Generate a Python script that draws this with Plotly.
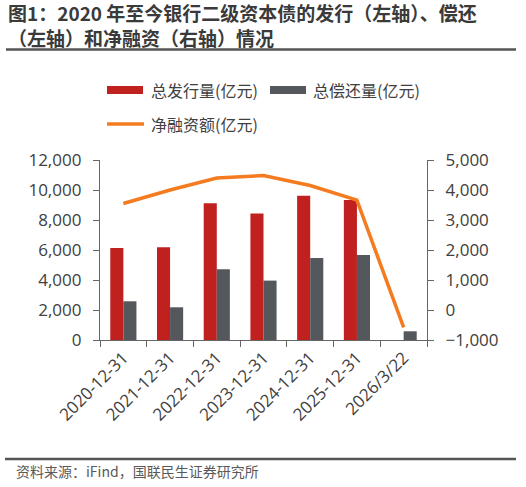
import plotly.graph_objects as go

categories = ["2020-12-31", "2021-12-31", "2022-12-31", "2023-12-31",
              "2024-12-31", "2025-12-31", "2026/3/22"]
issuance = [6130, 6180, 9110, 8440, 9620, 9330, 0]
redemption = [2580, 2180, 4710, 3960, 5470, 5670, 580]
net_financing = [3550, 4000, 4400, 4480, 4150, 3660, -580]

left_ticks = [0, 2000, 4000, 6000, 8000, 10000, 12000]
right_ticks = [-1000, 0, 1000, 2000, 3000, 4000, 5000]

RED = "#C0201E"
GRAY = "#54575C"
ORANGE = "#F47B20"
AX = "#666666"
TXT = "#404040"
FONT = "Open Sans, Noto Sans CJK SC, sans-serif"
CJK = "Noto Sans CJK SC, sans-serif"

W, H = 526, 487
L, R, T, B = 100, 427, 160, 340


def px(x):
    return (x - L) / (R - L)


def py(y):
    return (B - y) / (B - T)


fig = go.Figure()
fig.add_trace(go.Bar(x=categories, y=issuance, name="总发行量(亿元)",
                     marker=dict(color=RED, line=dict(width=0)),
                     showlegend=False))
fig.add_trace(go.Bar(x=categories, y=redemption, name="总偿还量(亿元)",
                     marker=dict(color=GRAY, line=dict(width=0)),
                     showlegend=False))
fig.add_trace(go.Scatter(x=categories, y=net_financing, name="净融资额(亿元)",
                         yaxis="y2", mode="lines",
                         line=dict(color=ORANGE, width=3.5),
                         showlegend=False))

shapes = []
annotations = []

# Title (two lines)
annotations.append(dict(
    text="<b>图1：2020 年至今银行二级资本债的发行（左轴）、偿还<br>（左轴）和净融资（右轴）情况</b>",
    xref="paper", yref="paper", x=px(6), y=py(25),
    xanchor="left", yanchor="middle", align="left", showarrow=False,
    font=dict(family=CJK, size=19, color="#3a3a3a")))
shapes.append(dict(type="line", xref="paper", yref="paper", x0=px(6), x1=px(516),
                   y0=py(49.5), y1=py(49.5), line=dict(color="#555555", width=2.5)))
shapes.append(dict(type="line", xref="paper", yref="paper", x0=px(5), x1=px(516),
                   y0=py(459), y1=py(459), line=dict(color="#555555", width=2.5)))
annotations.append(dict(
    text="资料来源：iFind，国联民生证券研究所",
    xref="paper", yref="paper", x=px(14), y=py(471), xanchor="left", yanchor="middle",
    showarrow=False, font=dict(family=CJK, size=14, color="#595959")))

# Legend
shapes.append(dict(type="rect", xref="paper", yref="paper", x0=px(107), x1=px(143),
                   y0=py(86), y1=py(94), fillcolor=RED, line=dict(width=0)))
shapes.append(dict(type="rect", xref="paper", yref="paper", x0=px(270), x1=px(306),
                   y0=py(86), y1=py(94), fillcolor=GRAY, line=dict(width=0)))
shapes.append(dict(type="line", xref="paper", yref="paper", x0=px(107), x1=px(144),
                   y0=py(124), y1=py(124), line=dict(color=ORANGE, width=3.5)))
for x0, y0, t in [(149, 90, "总发行量(亿元)"), (311, 90, "总偿还量(亿元)"),
                  (149, 124, "净融资额(亿元)")]:
    annotations.append(dict(text=t, xref="paper", yref="paper", x=px(x0), y=py(y0),
                            xanchor="left", yanchor="middle", showarrow=False,
                            font=dict(family=CJK, size=16, color=TXT)))

tf = dict(family=FONT, size=17, color=TXT)
fig.update_layout(
    width=W, height=H,
    margin=dict(l=L, r=W - R, t=T, b=H - B, pad=0),
    paper_bgcolor="white", plot_bgcolor="white",
    font=dict(family=FONT, size=16, color=TXT),
    barmode="group", bargap=0.44, bargroupgap=0,
    xaxis=dict(type="category", showgrid=False, showline=True, linecolor=AX,
               linewidth=1.3, ticks="outside", tickson="boundaries", ticklen=6,
               tickcolor=AX, tickwidth=1.3, tickangle=-45, tickfont=tf),
    yaxis=dict(range=[0, 12000], tickvals=left_ticks, tickformat=",",
               showgrid=False, zeroline=False, showline=True, linecolor=AX,
               linewidth=1.3, ticks="outside", ticklen=6, tickcolor=AX,
               tickwidth=1.3, tickfont=tf, ticklabelstandoff=8),
    yaxis2=dict(range=[-1000, 5000], tickvals=right_ticks, tickformat=",",
                overlaying="y", side="right", showgrid=False, zeroline=False,
                showline=True, linecolor=AX, linewidth=1.3, ticks="outside",
                ticklen=6, tickcolor=AX, tickwidth=1.3, tickfont=tf,
                ticklabelstandoff=8),
    shapes=shapes, annotations=annotations, showlegend=False,
)

fig.write_html("out.html")
